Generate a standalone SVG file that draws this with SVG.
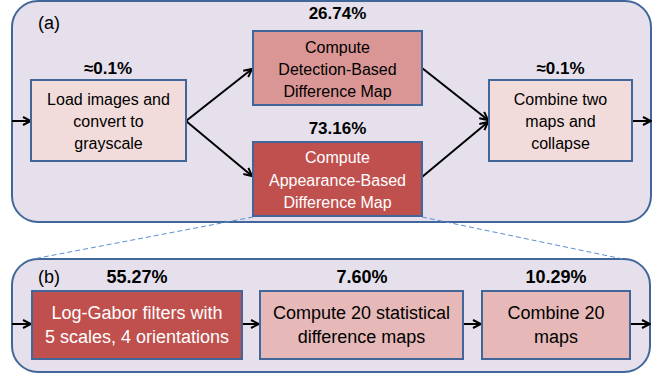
<svg xmlns="http://www.w3.org/2000/svg" width="660" height="377" viewBox="0 0 660 377">
<defs>
<marker id="ah" viewBox="0 0 10 10" refX="9" refY="5" markerWidth="10" markerHeight="10" markerUnits="userSpaceOnUse" orient="auto">
<path d="M1,1 L9,5 L1,9" fill="none" stroke="#000" stroke-width="2"/>
</marker>
</defs>
<style>
.panel{fill:#e5e0ec;stroke:#41679a;stroke-width:2}
.box{stroke:#41679a;stroke-width:2}
.t{font-family:"Liberation Sans",Arial,sans-serif;font-size:16px;fill:#000;text-anchor:middle}
.tb{font-family:"Liberation Sans",Arial,sans-serif;font-size:18px;fill:#000;text-anchor:middle}
.w{fill:#fff}
.p{font-family:"Liberation Sans",Arial,sans-serif;font-size:17px;font-weight:bold;fill:#000;text-anchor:middle}
.lab{font-family:"Liberation Sans",Arial,sans-serif;font-size:18px;fill:#000}
.c{stroke:#000;stroke-width:2;fill:none;marker-end:url(#ah)}
.d{stroke:#5b8fd0;stroke-width:1;stroke-dasharray:5,3;fill:none}
</style>
<g id="panel-a">
<rect class="panel" x="12" y="1" width="639" height="221" rx="26"/>
<text class="lab" x="38" y="29">(a)</text>
</g>
<g id="panel-b">
<rect class="panel" x="12" y="259" width="638" height="113" rx="26"/>
<text class="lab" x="38" y="283">(b)</text>
</g>
<g id="connectors">
<line class="c" x1="12" y1="121" x2="31" y2="121"/>
<line class="c" x1="186" y1="121" x2="252" y2="69"/>
<line class="c" x1="186" y1="121" x2="252" y2="176"/>
<line class="c" x1="422" y1="68" x2="488" y2="120"/>
<line class="c" x1="422" y1="177" x2="488" y2="122"/>
<line class="c" x1="632" y1="121" x2="651" y2="121"/>
<line class="c" x1="12" y1="324" x2="31" y2="324"/>
<line class="c" x1="242" y1="324" x2="259" y2="324"/>
<line class="c" x1="463" y1="324" x2="481" y2="324"/>
<line class="c" x1="630" y1="324" x2="650" y2="324"/>
<line class="d" x1="253" y1="217" x2="33" y2="259"/>
<line class="d" x1="422" y1="217" x2="623" y2="259"/>
</g>
<g id="load">
<text class="p" x="108" y="74">≈0.1%</text>
<rect class="box" x="31" y="80" width="155" height="81" fill="#f2dcdb"/>
<text class="t" x="108.5" y="105">Load images and</text>
<text class="t" x="108.5" y="127">convert to</text>
<text class="t" x="108.5" y="149">grayscale</text>
</g>
<g id="detection">
<text class="p" x="337.5" y="19">26.74%</text>
<rect class="box" x="253" y="31" width="169" height="74" fill="#d99694"/>
<text class="t" x="337.5" y="53">Compute</text>
<text class="t" x="337.5" y="75">Detection-Based</text>
<text class="t" x="337.5" y="97">Difference Map</text>
</g>
<g id="appearance">
<text class="p" x="337.5" y="134">73.16%</text>
<rect class="box" x="253" y="142" width="169" height="74" fill="#c0504d"/>
<text class="t w" x="337.5" y="163">Compute</text>
<text class="t w" x="337.5" y="186">Appearance-Based</text>
<text class="t w" x="337.5" y="208">Difference Map</text>
</g>
<g id="combine">
<text class="p" x="560.5" y="74">≈0.1%</text>
<rect class="box" x="489" y="80" width="143" height="81" fill="#f2dcdb"/>
<text class="t" x="560.5" y="105">Combine two</text>
<text class="t" x="560.5" y="127">maps and</text>
<text class="t" x="560.5" y="149">collapse</text>
</g>
<g id="loggabor">
<text class="p" x="137" y="283" style="font-size:18px">55.27%</text>
<rect class="box" x="32" y="291" width="210" height="68" fill="#c0504d"/>
<text class="tb w" x="137" y="319">Log-Gabor filters with</text>
<text class="tb w" x="137" y="343">5 scales, 4 orientations</text>
</g>
<g id="compute20">
<text class="p" x="362" y="283" style="font-size:18px">7.60%</text>
<rect class="box" x="260" y="291" width="203" height="68" fill="#e6b9b8"/>
<text class="tb" x="361.5" y="319">Compute 20 statistical</text>
<text class="tb" x="361.5" y="343">difference maps</text>
</g>
<g id="combine20">
<text class="p" x="556" y="283" style="font-size:18px">10.29%</text>
<rect class="box" x="482" y="291" width="148" height="68" fill="#e6b9b8"/>
<text class="tb" x="556" y="319">Combine 20</text>
<text class="tb" x="556" y="343">maps</text>
</g>
</svg>
